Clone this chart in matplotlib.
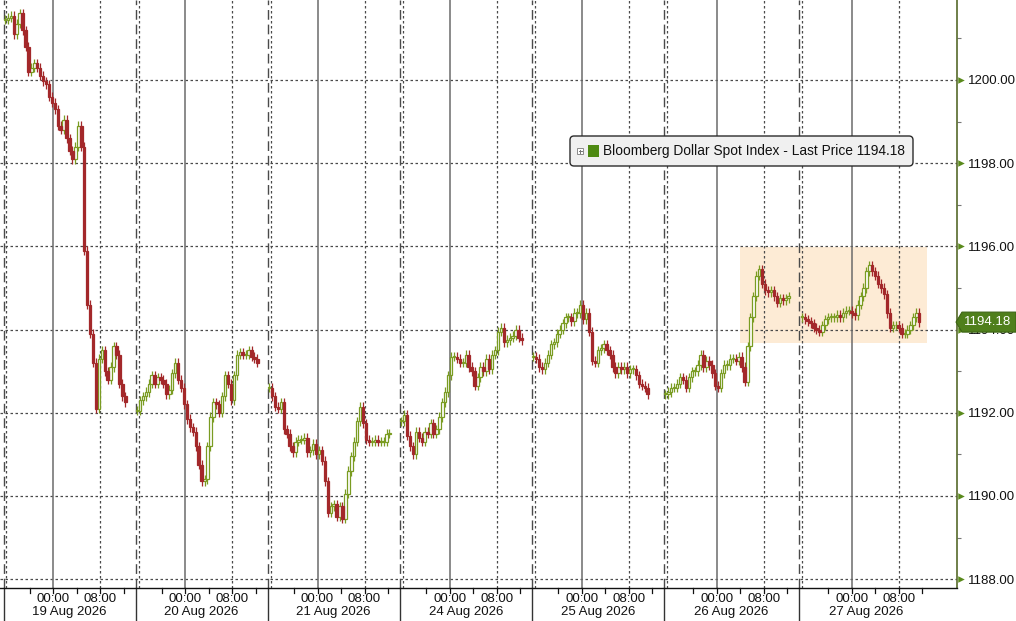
import matplotlib
matplotlib.use("Agg")
import matplotlib.pyplot as plt
import matplotlib.transforms as mtransforms
from matplotlib.patches import Rectangle, FancyBboxPatch, Polygon
from matplotlib.lines import Line2D
import numpy as np

plt.rcParams['font.family'] = ['Liberation Sans', 'DejaVu Sans']

# Bloomberg Dollar Spot Index, 30 minute bars, closes per trading session
session_labels = ["19 Aug 2026", "20 Aug 2026", "21 Aug 2026", "24 Aug 2026",
                  "25 Aug 2026", "26 Aug 2026", "27 Aug 2026"]
session_open = ["15:30", "15:30", "15:30", "15:30", "15:30", "15:00", "15:00"]
session_close = "14:00"
first_bar = ["15:30", "15:30", "15:30", "15:30", "15:30", "15:00", "15:15"]

close_19 = [1201.45, 1201.5, 1201.55, 1201.1, 1201.35, 1201.6, 1201.2, 1200.8, 1200.2, 1200.3,
            1200.4, 1200.3, 1200.1, 1199.97, 1199.9, 1199.6, 1199.45, 1199.3, 1198.9, 1198.8,
            1199.05, 1198.6, 1198.3, 1198.1, 1198.4, 1198.9, 1198.4, 1195.9, 1194.6, 1193.9,
            1193.2, 1192.1, 1193.3, 1193.5, 1193.0, 1192.8, 1193.1, 1193.6, 1193.4, 1192.7,
            1192.4, 1192.25]
close_20 = [1192.05, 1192.3, 1192.4, 1192.5, 1192.7, 1192.9, 1192.7, 1192.85, 1192.8, 1192.7,
            1192.45, 1192.55, 1192.95, 1193.2, 1192.8, 1192.6, 1192.2, 1191.85, 1191.65, 1191.55,
            1191.2, 1190.75, 1190.35, 1190.4, 1191.2, 1191.9, 1192.25, 1192.2, 1192.0, 1192.4,
            1192.9, 1192.7, 1192.3, 1192.9, 1193.4, 1193.45, 1193.4, 1193.4, 1193.5, 1193.35,
            1193.3, 1193.2]
close_21 = [1192.6, 1192.4, 1192.15, 1192.1, 1192.25, 1191.6, 1191.5, 1191.2, 1191.05, 1191.3,
            1191.35, 1191.35, 1191.4, 1191.05, 1191.1, 1191.25, 1191.0, 1191.1, 1190.85, 1190.35,
            1189.6, 1189.75, 1189.8, 1189.5, 1189.75, 1189.45, 1190.05, 1190.6, 1190.95, 1191.3,
            1191.8, 1192.15, 1191.75, 1191.35, 1191.3, 1191.3, 1191.35, 1191.3, 1191.3, 1191.3,
            1191.5, 1191.5]
close_24 = [1191.8, 1191.95, 1191.45, 1191.2, 1191.0, 1191.55, 1191.4, 1191.3, 1191.55, 1191.5,
            1191.75, 1191.5, 1191.6, 1191.9, 1192.25, 1192.5, 1192.9, 1193.35, 1193.35, 1193.3,
            1193.2, 1193.2, 1193.4, 1193.1, 1193.0, 1192.65, 1192.85, 1193.1, 1193.0, 1193.3,
            1193.05, 1193.4, 1193.5, 1193.95, 1194.05, 1193.7, 1193.75, 1193.8, 1193.85, 1194.0,
            1193.8, 1193.75]
close_25 = [1193.35, 1193.3, 1193.1, 1193.05, 1193.2, 1193.4, 1193.65, 1193.7, 1193.9, 1194.0,
            1194.15, 1194.3, 1194.3, 1194.2, 1194.4, 1194.4, 1194.6, 1194.25, 1194.4, 1193.95,
            1193.25, 1193.2, 1193.5, 1193.55, 1193.65, 1193.5, 1193.4, 1193.1, 1192.95, 1193.1,
            1193.05, 1193.1, 1192.95, 1193.05, 1193.05, 1192.9, 1192.7, 1192.65, 1192.6, 1192.45]
close_26 = [1192.45, 1192.5, 1192.6, 1192.6, 1192.7, 1192.85, 1192.8, 1192.6, 1192.85, 1193.0,
            1193.0, 1193.15, 1193.4, 1193.1, 1193.25, 1193.15, 1192.95, 1192.65, 1192.6, 1192.95,
            1193.15, 1193.15, 1193.3, 1193.3, 1193.25, 1193.35, 1193.1, 1192.75, 1193.6, 1194.3,
            1194.8, 1195.3, 1195.45, 1195.1, 1194.95, 1194.9, 1194.95, 1194.8, 1194.65, 1194.75,
            1194.7, 1194.75, 1194.8]
close_27 = [1194.3, 1194.25, 1194.2, 1194.15, 1194.05, 1194.0, 1193.95, 1194.1, 1194.25, 1194.3,
            1194.3, 1194.3, 1194.35, 1194.3, 1194.4, 1194.45, 1194.45, 1194.4, 1194.35, 1194.6,
            1194.8, 1195.0, 1195.4, 1195.55, 1195.4, 1195.3, 1195.1, 1195.0, 1194.85, 1194.4,
            1194.05, 1194.1, 1194.1, 1194.05, 1193.9, 1193.9, 1194.0, 1194.1, 1194.3, 1194.4,
            1194.18]
sessions = [close_19, close_20, close_21, close_24, close_25, close_26, close_27]

last_price = 1194.18
legend_text = "Bloomberg Dollar Spot Index - Last Price 1194.18"
y_ticks = [1188, 1190, 1192, 1194, 1196, 1198, 1200]
# shaded range: 26 Aug ~04:00 to 27 Aug ~12:50, 1193.68 to 1195.99
box_from, box_to = "04:00", "12:50"
box_lo, box_hi = 1193.68, 1195.99


def hrs(s):
    h, m = s.split(":")
    return int(h) + int(m) / 60.0


# lay out the compressed intraday time axis
xs, opens, closes = [], [], []
sess_start, sess_len = [], []
t0 = 0.0
for d, cl in enumerate(sessions):
    oh = hrs(session_open[d])
    length = 24 - oh + hrs(session_close)
    off = (hrs(first_bar[d]) - oh) % 24
    sess_start.append(t0)
    sess_len.append(length)
    for k, c in enumerate(cl):
        xs.append(t0 + off + 0.5 * k + 0.25)
        opens.append(cl[k - 1] if k > 0 else c)
        closes.append(c)
    t0 += length

xs = np.array(xs)
opens = np.array(opens)
closes = np.array(closes)
wick = 0.11
highs = np.maximum(opens, closes) + wick
lows = np.minimum(opens, closes) - wick

W, H = 1016, 621
fig = plt.figure(figsize=(W / 100, H / 100), dpi=100, facecolor="white")
ax = fig.add_axes([0, 33 / H, 957 / W, 588 / H])
ax.set_facecolor("white")

px_per_h = 5.87
ax.set_xlim(-3.5 / px_per_h, (957 - 3.5) / px_per_h)
ax.set_ylim(1200 - 508 / 41.6, 1200 + 80 / 41.6)

green = "#7a9c22"
red = "#a3282a"
grid_col = "#4a4a4a"

# highlight box
bx0 = sess_start[5] + hrs(box_from) + 24 - hrs(session_open[5])
bx1 = sess_start[6] + hrs(box_to) + 24 - hrs(session_open[6])
ax.add_patch(Rectangle((bx0, box_lo), bx1 - bx0, box_hi - box_lo, facecolor="#fdebd5",
                       edgecolor="none", zorder=0))

# horizontal grid
for v in y_ticks:
    ax.axhline(v, color=grid_col, lw=0.9, ls=(0, (2, 2)), zorder=1)

# vertical grid per session
trans_xa = mtransforms.blended_transform_factory(ax.transData, ax.transAxes)
for d in range(len(sessions)):
    s = sess_start[d]
    oh = hrs(session_open[d])
    midnight = s + 24 - oh
    ax.axvline(s, color=grid_col, lw=1.0, ls=(0, (7, 3.5)), zorder=1)
    ax.axvline(s + 0.5, color=grid_col, lw=0.9, ls=(0, (2, 2)), zorder=1)
    ax.axvline(midnight, color="#6b6b6b", lw=1.1, zorder=1)
    ax.axvline(midnight + 8, color=grid_col, lw=0.9, ls=(0, (2, 2)), zorder=1)
    # separator below the axis
    ax.add_line(Line2D([s, s], [0, -33 / 588], transform=trans_xa, color="#333333",
                       lw=1.0, clip_on=False))
    ax.text(midnight, -0.018, "00:00", transform=trans_xa, ha="center", va="center",
            fontsize=9.5, color="#111111")
    ax.text(midnight + 8, -0.018, "08:00", transform=trans_xa, ha="center", va="center",
            fontsize=9.5, color="#111111")
    ax.text(s + sess_len[d] / 2, -0.041, session_labels[d], transform=trans_xa,
            ha="center", va="center", fontsize=9.5, color="#111111")
    for hh in (4, 8, 12, 16, 20):
        x = midnight - 4 + (hh - 4)
        ax.add_line(Line2D([x, x], [0, -5 / 588], transform=trans_xa, color="#111111",
                           lw=0.9, clip_on=False))

# candles
up = closes >= opens
ax.vlines(xs[up], lows[up], highs[up], color=green, lw=0.9, zorder=3)
ax.vlines(xs[~up], lows[~up], highs[~up], color=red, lw=0.9, zorder=3)
body_lo = np.minimum(opens, closes)
body_h = np.maximum(np.abs(closes - opens), 0.02)
ax.bar(xs[up], body_h[up], bottom=body_lo[up], width=0.42, facecolor="white",
       edgecolor=green, lw=0.9, zorder=4)
ax.bar(xs[~up], body_h[~up], bottom=body_lo[~up], width=0.42, facecolor=red,
       edgecolor=red, lw=0.9, zorder=4)

# axes styling
for side in ("left", "top"):
    ax.spines[side].set_visible(False)
ax.spines["right"].set_color("#56692a")
ax.spines["right"].set_linewidth(1.2)
ax.spines["bottom"].set_color("#111111")
ax.spines["bottom"].set_linewidth(1.0)
ax.set_xticks([])
ax.yaxis.tick_right()
ax.set_yticks(y_ticks)
ax.set_yticklabels([f"{v:.2f}" for v in y_ticks])
ax.tick_params(axis="y", which="major", length=0, pad=8, labelsize=9.5,
               labelcolor="#111111")
ax.set_yticks(np.arange(1189, 1202, 2), minor=True)
ax.tick_params(axis="y", which="minor", length=3, width=0.8, color="#777777")

trans_ay = ax.get_yaxis_transform()
ax.scatter([1.0045] * len(y_ticks), y_ticks, marker=">", s=22, color="#5a8a1c",
           transform=trans_ay, clip_on=False, zorder=5, linewidths=0)
ax.text(1.0 + 11 / 957, 1202, "1202.00", transform=trans_ay, va="center", ha="left",
        fontsize=9.5, color="#111111", clip_on=False)

# last price tag
hh = 10 / 41.6
x0 = 1.0 - 1 / 957
x1 = 1.0 + 5 / 957
x2 = 1.0 + 59 / 957
tag = Polygon([(x0, last_price), (x1, last_price + hh), (x2, last_price + hh),
               (x2, last_price - hh), (x1, last_price - hh)], closed=True,
              facecolor="#4f7f1c", edgecolor="#3c6414", lw=0.8,
              transform=trans_ay, clip_on=False, zorder=10)
ax.add_patch(tag)
ax.text(1.0 + 7 / 957, last_price, f"{last_price:.2f}", transform=trans_ay,
        va="center", ha="left", fontsize=9.5, color="white", clip_on=False, zorder=11)

# legend box in pixel coordinates
ident = mtransforms.IdentityTransform()
fig.add_artist(FancyBboxPatch((570, H - 166), 343, 30,
                              boxstyle="round,pad=0,rounding_size=4",
                              facecolor="#f0f0f0", edgecolor="#2b2b2b", lw=1.0,
                              transform=ident))
fig.add_artist(Rectangle((577, H - 154), 6, 6, facecolor="white", edgecolor="#8a8a8a",
                         lw=0.7, transform=ident))
fig.add_artist(Line2D([578.5, 581.5], [H - 151, H - 151], color="#777777", lw=0.7,
                      transform=ident))
fig.add_artist(Line2D([580, 580], [H - 152.5, H - 149.5], color="#777777", lw=0.7,
                      transform=ident))
fig.add_artist(Rectangle((588, H - 157), 11, 12, facecolor="#4e8a12", edgecolor="none",
                         transform=ident))
fig.text(603 / W, 1 - 151 / H, legend_text, fontsize=9.9, color="#111111",
         va="center", ha="left")

fig.savefig("out.png", dpi=100, facecolor="white")
